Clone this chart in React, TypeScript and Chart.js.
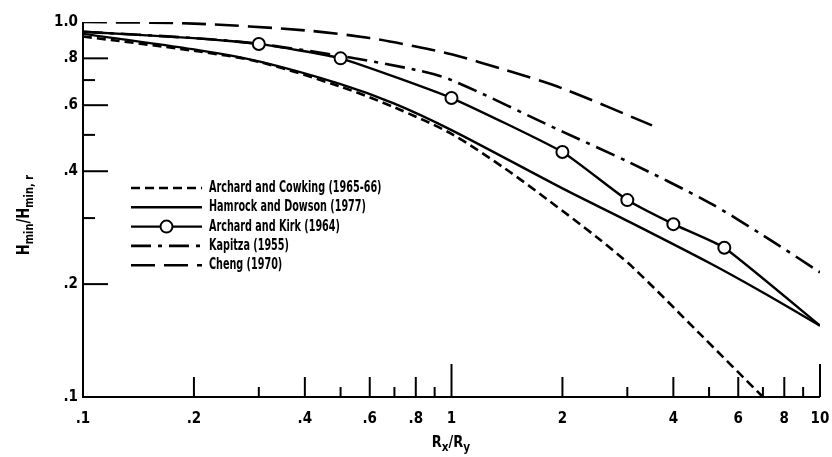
import React, { useEffect, useRef } from "react";
import { Chart, registerables } from "chart.js";

Chart.register(...registerables);

// ---- data ----
const cowkingX = [0.1, 0.2, 0.3, 0.5, 0.7, 1, 1.4, 1.83, 2.5, 3.1, 4.7, 7];
const cowkingY = [0.915, 0.838, 0.783, 0.672, 0.592, 0.503, 0.406, 0.335, 0.265, 0.222, 0.148, 0.1];

const hamrockX = [0.1, 0.2, 0.3, 0.5, 0.7, 1, 2, 3, 5, 7, 10];
const hamrockY = [0.93, 0.845, 0.785, 0.683, 0.606, 0.515, 0.36, 0.295, 0.228, 0.19, 0.155];

const kirkX = [0.1, 0.2, 0.3, 0.5, 1, 2, 3, 4, 5.5, 10];
const kirkY = [0.942, 0.906, 0.874, 0.8, 0.627, 0.45, 0.335, 0.289, 0.25, 0.155];
const kirkMarked = [false, false, true, true, true, true, true, true, true, false];

const kapitzaX = [0.1, 0.2, 0.3, 0.5, 0.8, 1, 2, 3, 5, 7, 10];
const kapitzaY = [0.942, 0.906, 0.874, 0.812, 0.745, 0.7, 0.51, 0.425, 0.33, 0.27, 0.215];

const chengX = [0.1, 0.2, 0.4, 0.6, 0.8, 1, 1.4, 2, 3.5];
const chengY = [1.0, 0.99, 0.95, 0.906, 0.86, 0.82, 0.745, 0.665, 0.53];

const seriesLabels = [
  "Archard and Cowking (1965-66)",
  "Hamrock and Dowson (1977)",
  "Archard and Kirk (1964)",
  "Kapitza (1955)",
  "Cheng (1970)",
];

const xTickValues = [0.1, 0.2, 0.4, 0.6, 0.8, 1, 2, 4, 6, 8, 10];
const xTickLabels = [".1", ".2", ".4", ".6", ".8", "1", "2", "4", "6", "8", "10"];
const yTickValues = [0.1, 0.2, 0.4, 0.6, 0.8, 1.0];
const yTickLabels = [".1", ".2", ".4", ".6", ".8", "1.0"];

const xMajorTicks = [0.2, 0.4, 0.6, 0.8, 2, 4, 6, 8];
const xLongTicks = [1, 10];
const xMinorTicks = [0.3, 0.5, 0.7, 0.9, 3, 5, 7, 9];
const yMajorTicks = [0.2, 0.4, 0.6, 0.8];
const yMinorTicks = [0.3, 0.5, 0.7];

const FONT = "'Liberation Sans Narrow', 'DejaVu Sans Condensed', 'Liberation Sans', sans-serif";

const toPts = (xs: number[], ys: number[]) => xs.map((x, i) => ({ x, y: ys[i] }));

const overlayPlugin = {
  id: "overlay",
  afterDraw(chart: any) {
    const { ctx, chartArea, scales } = chart;
    const xs = scales.x;
    const ys = scales.y;
    const L = chartArea.left;
    const B = chartArea.bottom;
    ctx.save();
    ctx.strokeStyle = "#000";
    ctx.fillStyle = "#000";
    ctx.lineWidth = 2;
    ctx.setLineDash([]);
    // axes
    ctx.beginPath();
    ctx.moveTo(L, chartArea.top);
    ctx.lineTo(L, B);
    ctx.lineTo(chartArea.right, B);
    ctx.stroke();
    // x ticks (inward)
    const drawX = (vals: number[], len: number) => {
      vals.forEach((v) => {
        const p = xs.getPixelForValue(v);
        ctx.beginPath();
        ctx.moveTo(p, B);
        ctx.lineTo(p, B - len);
        ctx.stroke();
      });
    };
    drawX(xMajorTicks, 20);
    drawX(xLongTicks, 33);
    drawX(xMinorTicks, 10);
    const drawY = (vals: number[], len: number) => {
      vals.forEach((v) => {
        const p = ys.getPixelForValue(v);
        ctx.beginPath();
        ctx.moveTo(L, p);
        ctx.lineTo(L + len, p);
        ctx.stroke();
      });
    };
    drawY(yMajorTicks, 25);
    drawY(yMinorTicks, 12);

    // legend
    const lx0 = 131;
    const lx1 = 202;
    const tx = 209;
    const ty0 = 188;
    const dy = 19.3;
    chart.data.datasets.forEach((ds: any, i: number) => {
      if (i >= seriesLabels.length) return;
      const y = ty0 + i * dy;
      ctx.save();
      ctx.lineWidth = ds.borderWidth;
      ctx.setLineDash(ds.borderDash || []);
      ctx.beginPath();
      ctx.moveTo(lx0, y);
      ctx.lineTo(lx1, y);
      ctx.stroke();
      ctx.setLineDash([]);
      if (i === 2) {
        ctx.beginPath();
        ctx.arc((lx0 + lx1) / 2, y, 6, 0, Math.PI * 2);
        ctx.fillStyle = "#fff";
        ctx.fill();
        ctx.lineWidth = 2;
        ctx.stroke();
      }
      ctx.restore();
      ctx.save();
      ctx.font = `bold 16px ${FONT}`;
      ctx.textBaseline = "middle";
      ctx.textAlign = "left";
      ctx.translate(tx, y);
      ctx.scale(0.67, 1);
      ctx.fillText(seriesLabels[i], 0, 0);
      ctx.restore();
    });

    // axis titles with subscripts
    const drawRuns = (runs: [string, boolean][], cx: number, cy: number, rot: number, bigSize: number, smallSize: number, sx: number) => {
      ctx.save();
      ctx.translate(cx, cy);
      ctx.rotate(rot);
      ctx.scale(sx, 1);
      ctx.textBaseline = "alphabetic";
      ctx.textAlign = "left";
      const big = `bold ${bigSize}px ${FONT}`;
      const small = `bold ${smallSize}px ${FONT}`;
      let total = 0;
      runs.forEach(([t, sub]) => {
        ctx.font = sub ? small : big;
        total += ctx.measureText(t).width;
      });
      let x = -total / 2;
      runs.forEach(([t, sub]) => {
        ctx.font = sub ? small : big;
        ctx.fillText(t, x, sub ? 9 : 5);
        x += ctx.measureText(t).width;
      });
      ctx.restore();
    };
    drawRuns(
      [
        ["H", false],
        ["min", true],
        ["/H", false],
        ["min, r", true],
      ],
      24,
      215,
      -Math.PI / 2,
      17,
      13,
      0.85
    );
    drawRuns(
      [
        ["R", false],
        ["x", true],
        ["/R", false],
        ["y", true],
      ],
      451,
      442,
      0,
      16,
      13,
      0.9
    );
    ctx.restore();
  },
};

export default function App() {
  const ref = useRef<HTMLCanvasElement | null>(null);
  useEffect(() => {
    if (!ref.current) return;
    const common = {
      borderColor: "#000",
      backgroundColor: "#000",
      pointRadius: 0,
      fill: false,
      tension: 0.3,
    };
    const chart = new Chart(ref.current, {
      type: "line",
      data: {
        datasets: [
          { ...common, label: seriesLabels[0], data: toPts(cowkingX, cowkingY), borderWidth: 2.6, borderDash: [9, 5] },
          { ...common, label: seriesLabels[1], data: toPts(hamrockX, hamrockY), borderWidth: 2.4, borderDash: [] },
          {
            ...common,
            label: seriesLabels[2],
            data: toPts(kirkX, kirkY),
            borderWidth: 2.4,
            borderDash: [],
            tension: 0.15,
            pointRadius: kirkMarked.map((m) => (m ? 6 : 0)),
            pointBackgroundColor: "#fff",
            pointBorderColor: "#000",
            pointBorderWidth: 2,
          },
          { ...common, label: seriesLabels[3], data: toPts(kapitzaX, kapitzaY), borderWidth: 2.6, borderDash: [20, 7, 4, 7] },
          { ...common, label: seriesLabels[4], data: toPts(chengX, chengY), borderWidth: 2.6, borderDash: [24, 9] },
        ],
      },
      options: {
        responsive: false,
        animation: false,
        layout: { padding: { top: 22, right: 12, left: 0, bottom: 0 } },
        plugins: { legend: { display: false }, tooltip: { enabled: false } },
        scales: {
          x: {
            type: "logarithmic",
            min: 0.1,
            max: 10,
            grid: { display: false, drawTicks: false },
            border: { display: false },
            afterBuildTicks: (s: any) => {
              s.ticks = xTickValues.map((v) => ({ value: v }));
            },
            afterFit: (s: any) => {
              s.height = 60;
              s.paddingLeft = 0;
              s.paddingRight = 0;
            },
            ticks: {
              autoSkip: false,
              maxRotation: 0,
              padding: 13,
              color: "#000",
              font: { family: FONT, size: 15, weight: "bold" },
              callback: (_v: any, i: number) => xTickLabels[i],
            },
          },
          y: {
            type: "logarithmic",
            min: 0.1,
            max: 1.0,
            grid: { display: false, drawTicks: false },
            border: { display: false },
            afterBuildTicks: (s: any) => {
              s.ticks = yTickValues.map((v) => ({ value: v }));
            },
            afterFit: (s: any) => {
              s.width = 83;
              s.paddingTop = 0;
              s.paddingBottom = 0;
            },
            ticks: {
              autoSkip: false,
              padding: 5,
              color: "#000",
              font: { family: FONT, size: 15, weight: "bold" },
              callback: (_v: any, i: number) => yTickLabels[i],
            },
          },
        },
      },
      plugins: [overlayPlugin],
    } as any);
    return () => chart.destroy();
  }, []);
  return (
    <div style={{ position: "absolute", left: 0, top: 0, width: 832, height: 457, background: "#fff" }}>
      <canvas ref={ref} width={832} height={457} style={{ display: "block" }} />
    </div>
  );
}
